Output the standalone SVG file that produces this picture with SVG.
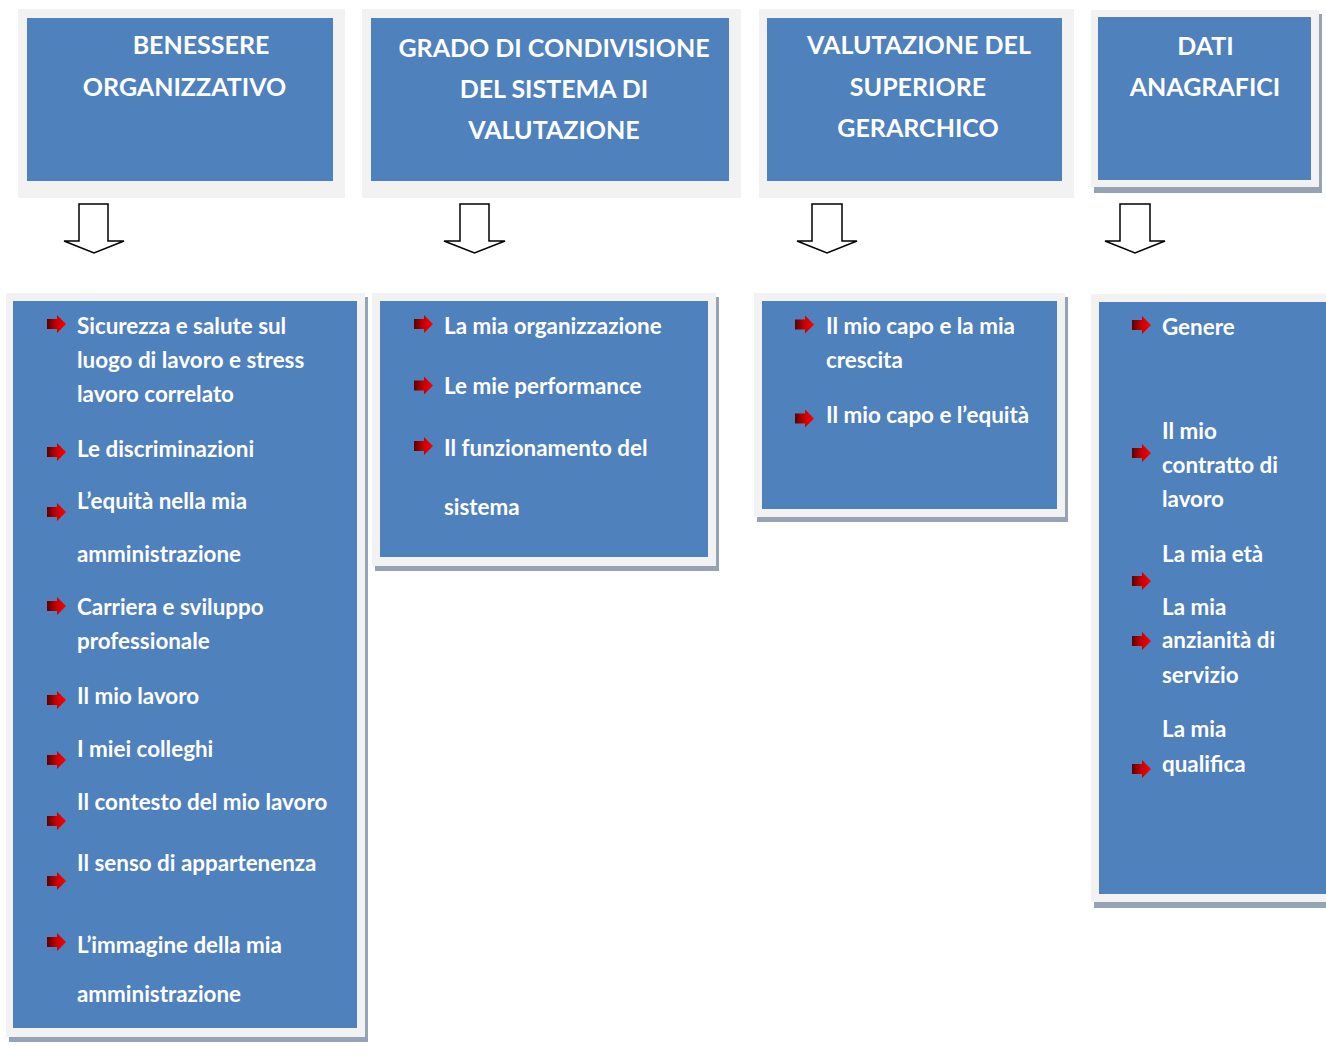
<svg xmlns="http://www.w3.org/2000/svg" width="1326" height="1055" viewBox="0 0 1326 1055">
<style>
.outer{fill:#f2f2f2}
.shadow{fill:#95a3b4}
.inner{fill:#4f81bd}
.hd{font-family:Lato,"Liberation Sans",sans-serif;font-weight:bold;font-size:25px;fill:#ffffff;text-anchor:middle}
.tx{font-family:Lato,"Liberation Sans",sans-serif;font-weight:bold;font-size:22.4px;fill:#ffffff}
.dn{fill:#ffffff;stroke:#000000;stroke-width:1.5;stroke-linejoin:miter}
</style>
<defs>
<linearGradient id="bg" x1="0" y1="0" x2="1" y2="0">
<stop offset="0" stop-color="#5a0000"/>
<stop offset="0.5" stop-color="#c80000"/>
<stop offset="1" stop-color="#ff0000"/>
</linearGradient>
<path id="bul" d="M0,-5 H10 V-9 L19,0 L10,9 V5 H0 Z" fill="url(#bg)"/>
</defs>
<rect width="1326" height="1055" fill="#ffffff"/>

<g id="header-benessere">
<rect class="outer" x="18" y="9" width="327" height="189"/>
<rect class="inner" x="27" y="18" width="306" height="163"/>
<text class="hd" x="201" y="54">BENESSERE</text>
<text class="hd" x="184.5" y="96">ORGANIZZATIVO</text>
</g>
<g id="header-grado">
<rect class="outer" x="362" y="9" width="379" height="189"/>
<rect class="inner" x="371" y="18" width="358" height="163"/>
<text class="hd" x="554" y="57">GRADO DI CONDIVISIONE</text>
<text class="hd" x="554" y="98">DEL SISTEMA DI</text>
<text class="hd" x="554" y="139">VALUTAZIONE</text>
</g>
<g id="header-valutazione">
<rect class="outer" x="759" y="9" width="315" height="189"/>
<rect class="inner" x="767" y="18" width="295" height="163"/>
<text class="hd" x="919" y="54">VALUTAZIONE DEL</text>
<text class="hd" x="918" y="96">SUPERIORE</text>
<text class="hd" x="918" y="137">GERARCHICO</text>
</g>
<g id="header-dati">
<rect class="shadow" x="1094" y="14" width="228" height="179"/>
<rect class="outer" x="1091" y="10" width="228" height="177"/>
<rect class="inner" x="1098" y="17" width="213" height="163"/>
<text class="hd" x="1205.5" y="55">DATI</text>
<text class="hd" x="1205" y="96">ANAGRAFICI</text>
</g>

<g id="connectors">
<path class="dn" d="M79,204 H108 V241 H124 L94,253 L64,241 H79 Z"/>
<path class="dn" d="M460,204 H489 V241 H505 L474.5,253 L444,241 H460 Z"/>
<path class="dn" d="M812,204 H842 V241 H857 L827,253 L797,241 H812 Z"/>
<path class="dn" d="M1120,204 H1150 V241 H1165 L1135,253 L1105,241 H1120 Z"/>
</g>

<g id="list-benessere">
<rect class="shadow" x="9" y="297" width="359" height="745"/>
<rect class="outer" x="6" y="293" width="359" height="744"/>
<rect class="inner" x="13" y="301" width="344" height="727"/>
<use href="#bul" x="47" y="324"/>
<use href="#bul" x="47" y="452"/>
<use href="#bul" x="47" y="512"/>
<use href="#bul" x="47" y="606"/>
<use href="#bul" x="47" y="700"/>
<use href="#bul" x="47" y="760"/>
<use href="#bul" x="47" y="821"/>
<use href="#bul" x="47" y="881"/>
<use href="#bul" x="47" y="942"/>
<text class="tx" x="77" y="334">Sicurezza e salute sul</text>
<text class="tx" x="77" y="368">luogo di lavoro e stress</text>
<text class="tx" x="77" y="402">lavoro correlato</text>
<text class="tx" x="77" y="457">Le discriminazioni</text>
<text class="tx" x="77" y="509">L’equità nella mia</text>
<text class="tx" x="77" y="562">amministrazione</text>
<text class="tx" x="77" y="615">Carriera e sviluppo</text>
<text class="tx" x="77" y="649">professionale</text>
<text class="tx" x="77" y="704">Il mio lavoro</text>
<text class="tx" x="77" y="757">I miei colleghi</text>
<text class="tx" x="77" y="810">Il contesto del mio lavoro</text>
<text class="tx" x="77" y="871">Il senso di appartenenza</text>
<text class="tx" x="77" y="953">L’immagine della mia</text>
<text class="tx" x="77" y="1002">amministrazione</text>
</g>

<g id="list-grado">
<rect class="shadow" x="375" y="297" width="344" height="274"/>
<rect class="outer" x="372" y="293" width="344" height="273"/>
<rect class="inner" x="380" y="301" width="328" height="256"/>
<use href="#bul" x="414" y="324"/>
<use href="#bul" x="414" y="385.5"/>
<use href="#bul" x="414" y="446"/>
<text class="tx" x="444" y="334">La mia organizzazione</text>
<text class="tx" x="444" y="394">Le mie performance</text>
<text class="tx" x="444" y="456">Il funzionamento del</text>
<text class="tx" x="444" y="515">sistema</text>
</g>

<g id="list-valutazione">
<rect class="shadow" x="757" y="297" width="311" height="225"/>
<rect class="outer" x="754" y="293" width="311" height="224"/>
<rect class="inner" x="762" y="301" width="295" height="208"/>
<use href="#bul" x="795" y="324.5"/>
<use href="#bul" x="795" y="418.5"/>
<text class="tx" x="826" y="334">Il mio capo e la mia</text>
<text class="tx" x="826" y="368">crescita</text>
<text class="tx" x="826" y="423">Il mio capo e l’equità</text>
</g>

<g id="list-dati">
<rect class="shadow" x="1094" y="298" width="240" height="610"/>
<rect class="outer" x="1091" y="294" width="240" height="608"/>
<rect class="inner" x="1099" y="302" width="232" height="592"/>
<use href="#bul" x="1132" y="325"/>
<use href="#bul" x="1132" y="453"/>
<use href="#bul" x="1132" y="581"/>
<use href="#bul" x="1132" y="641"/>
<use href="#bul" x="1132" y="769"/>
<text class="tx" x="1162" y="335">Genere</text>
<text class="tx" x="1162" y="439">Il mio</text>
<text class="tx" x="1162" y="473">contratto di</text>
<text class="tx" x="1162" y="507">lavoro</text>
<text class="tx" x="1162" y="562">La mia età</text>
<text class="tx" x="1162" y="615">La mia</text>
<text class="tx" x="1162" y="648">anzianità di</text>
<text class="tx" x="1162" y="683">servizio</text>
<text class="tx" x="1162" y="737">La mia</text>
<text class="tx" x="1162" y="772">qualifica</text>
</g>
</svg>
